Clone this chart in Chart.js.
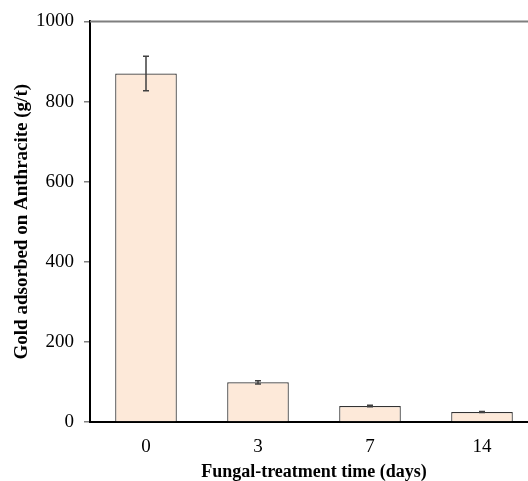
<!DOCTYPE html>
<html>
<head>
<meta charset="utf-8">
<script src="https://cdn.jsdelivr.net/npm/chart.js@4"></script>
<style>
  html, body { margin: 0; padding: 0; background: #fff; overflow: hidden; }
  #wrap { width: 548px; height: 481px; }
</style>
</head>
<body>
<div id="wrap"><canvas id="c" width="548" height="481"></canvas></div>
<script>
const categories = ['0', '3', '7', '14'];
const goldValues = [870, 99, 40, 25];
const goldErrors = [43, 4, 2, 1.5];
const yTicks = [0, 200, 400, 600, 800, 1000];

const serif = '"Liberation Serif", "Times New Roman", "DejaVu Serif", serif';

const errorBarPlugin = {
  id: 'errorBars',
  afterDatasetsDraw(chart) {
    const ctx = chart.ctx;
    const meta = chart.getDatasetMeta(0);
    const ys = chart.scales.y;
    ctx.save();
    ctx.strokeStyle = '#404040';
    ctx.lineWidth = 1.5;
    meta.data.forEach((bar, i) => {
      const v = goldValues[i], e = goldErrors[i];
      const yT = ys.getPixelForValue(v + e);
      const yB = ys.getPixelForValue(v - e);
      const x = bar.x;
      ctx.beginPath();
      ctx.moveTo(x, yT); ctx.lineTo(x, yB);
      ctx.moveTo(x - 3, yT); ctx.lineTo(x + 3, yT);
      ctx.moveTo(x - 3, yB); ctx.lineTo(x + 3, yB);
      ctx.stroke();
    });
    ctx.restore();
  }
};

const topBorderPlugin = {
  id: 'topBorder',
  afterDraw(chart) {
    const a = chart.chartArea;
    const ctx = chart.ctx;
    ctx.save();
    ctx.strokeStyle = '#7f7f7f';
    ctx.lineWidth = 2;
    ctx.beginPath();
    ctx.moveTo(a.left, a.top);
    ctx.lineTo(a.right, a.top);
    ctx.stroke();
    ctx.restore();
  }
};

new Chart(document.getElementById('c'), {
  type: 'bar',
  data: {
    labels: categories,
    datasets: [{
      data: goldValues,
      backgroundColor: '#fde9d9',
      borderColor: '#333333',
      borderWidth: 1.2,
      barPercentage: 0.55,
      categoryPercentage: 1.0
    }]
  },
  options: {
    responsive: false,
    animation: false,
    devicePixelRatio: 1,
    layout: { padding: { left: 0, top: 20, right: 10, bottom: 0 } },
    plugins: { legend: { display: false }, tooltip: { enabled: false } },
    scales: {
      x: {
        grid: { display: false, drawTicks: false },
        border: { display: true, color: '#000', width: 2 },
        ticks: { color: '#000', padding: 14, font: { family: serif, size: 19 } },
        title: {
          display: true,
          text: 'Fungal-treatment time (days)',
          color: '#000',
          padding: { top: 0, bottom: 0 },
          font: { family: serif, size: 18, weight: 'bold', lineHeight: 1 }
        },
        afterFit(s) { s.height = 59; }
      },
      y: {
        min: 0,
        max: 1000,
        afterBuildTicks(s) { s.ticks = yTicks.map(v => ({ value: v })); },
        grid: { display: true, drawOnChartArea: false, drawTicks: true, tickLength: 6, color: '#7f7f7f', lineWidth: 1.5 },
        border: { display: true, color: '#000', width: 2 },
        ticks: {
          color: '#000', padding: 10, font: { family: serif, size: 19 },
          callback: (v) => String(v)
        },
        title: {
          display: true,
          text: 'Gold adsorbed on Anthracite (g/t)',
          color: '#000',
          padding: { top: 11, bottom: 0 },
          font: { family: serif, size: 19, weight: 'bold', lineHeight: 1.2 }
        },
        afterFit(s) { s.width = 90; }
      }
    }
  },
  plugins: [errorBarPlugin, topBorderPlugin]
});
</script>
</body>
</html>
